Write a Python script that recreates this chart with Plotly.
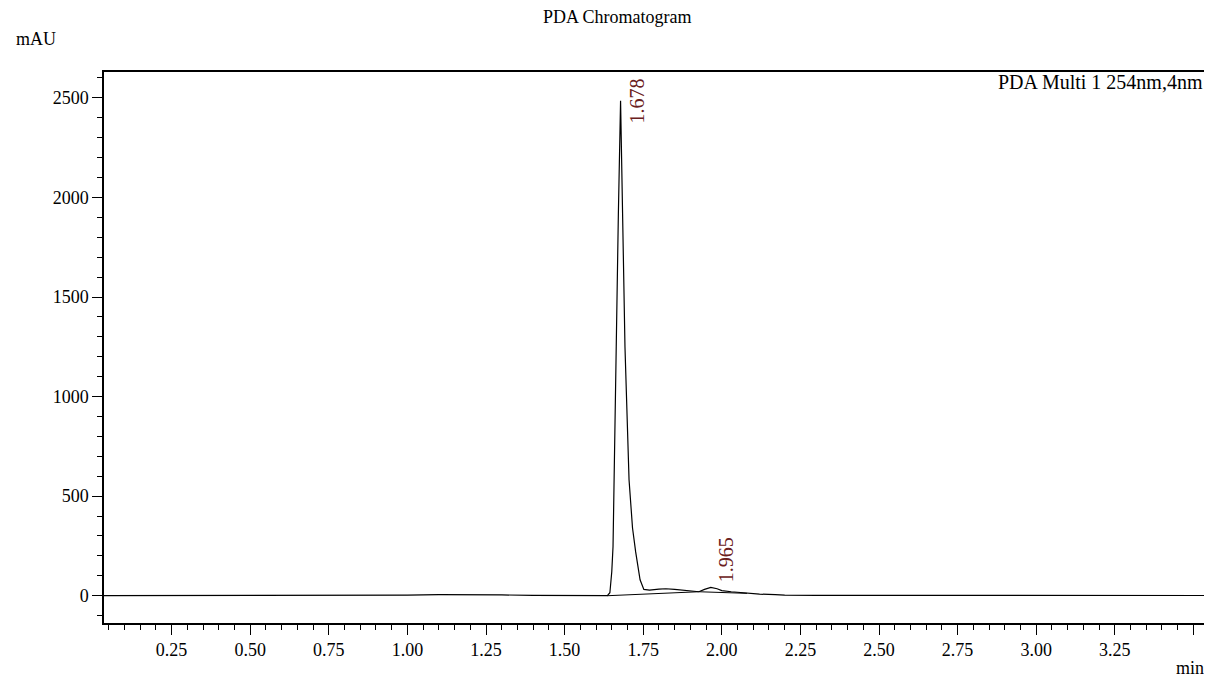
import plotly.graph_objects as go

# ---- data ----
time_min = [0.035, 0.30, 0.50, 0.55, 0.70, 0.90, 1.00, 1.10, 1.20, 1.30, 1.40, 1.50, 1.60, 1.636,
            1.644, 1.650, 1.654, 1.657, 1.664, 1.671, 1.678, 1.684, 1.692, 1.705, 1.716, 1.726,
            1.740, 1.752, 1.770, 1.800, 1.822, 1.850, 1.880, 1.910, 1.927, 1.945, 1.965, 1.985,
            2.000, 2.030, 2.075, 2.120, 2.170, 2.200, 2.300, 2.500, 2.650, 2.700, 3.000, 3.540]
signal_mau = [0, 0, 0, 1, 1, 2, 3, 5, 6, 4, 2, 1, 0, 0,
              15, 120, 247, 581, 1250, 1919, 2485, 1919, 1250, 581, 340, 220,
              80, 32, 28, 33, 35, 32, 28, 22, 20, 32, 42, 35,
              26, 20, 13, 8, 5, 3, 2, 1.5, 2, 1.5, 1, 1]

baseline1_t = [1.636, 1.927]
baseline1_v = [0, 20]
baseline2_t = [1.927, 2.080]
baseline2_v = [20, 12]

peak_times = [1.678, 1.965]
peak_heights = [2485, 42]
peak_labels = ["1.678", "1.965"]

x_tick_vals = [0.25, 0.50, 0.75, 1.00, 1.25, 1.50, 1.75, 2.00, 2.25, 2.50, 2.75, 3.00, 3.25, 3.50]
x_tick_text = ["0.25", "0.50", "0.75", "1.00", "1.25", "1.50", "1.75", "2.00", "2.25", "2.50",
               "2.75", "3.00", "3.25", ""]
y_tick_vals = [0, 500, 1000, 1500, 2000, 2500]

FONT = "Liberation Serif, Times New Roman, serif"
FS = 18

fig = go.Figure()
fig.add_trace(go.Scatter(x=time_min, y=signal_mau, mode="lines",
                         line=dict(color="black", width=1.2), hoverinfo="skip"))
fig.add_trace(go.Scatter(x=baseline1_t, y=baseline1_v, mode="lines",
                         line=dict(color="black", width=1), hoverinfo="skip"))
fig.add_trace(go.Scatter(x=baseline2_t, y=baseline2_v, mode="lines",
                         line=dict(color="black", width=1), hoverinfo="skip"))

annotations = []
shifts = [(16, 0), (16, 28)]
for t, h, lab, (dx, dy) in zip(peak_times, peak_heights, peak_labels, shifts):
    annotations.append(dict(x=t, y=h, xref="x", yref="y", text=lab, showarrow=False,
                            textangle=-90, xanchor="center", yanchor="middle",
                            xshift=dx, yshift=dy,
                            font=dict(family=FONT, size=20, color="#6a2020")))

annotations += [
    dict(x=0, y=1, xref="paper", yref="paper", text="PDA Chromatogram", showarrow=False,
         xanchor="center", yanchor="middle", xshift=513, yshift=55,
         font=dict(family=FONT, size=18, color="black")),
    dict(x=0, y=1, xref="paper", yref="paper", text="mAU", showarrow=False,
         xanchor="left", yanchor="middle", xshift=-90, yshift=33,
         font=dict(family=FONT, size=FS, color="black")),
    dict(x=1, y=0, xref="paper", yref="paper", text="min", showarrow=False,
         xanchor="right", yanchor="middle", xshift=0, yshift=-45,
         font=dict(family=FONT, size=FS, color="black")),
    dict(x=1, y=1, xref="paper", yref="paper", text="PDA Multi 1 254nm,4nm", showarrow=False,
         xanchor="right", yanchor="middle", xshift=-1, yshift=-10,
         font=dict(family=FONT, size=20, color="black")),
]

# the page body adds an 8px offset, so the figure is sized to end at the window edge
fig.update_layout(
    width=1204, height=671,
    margin=dict(l=96, r=4, t=64, b=56),
    paper_bgcolor="white", plot_bgcolor="white",
    showlegend=False,
    font=dict(family=FONT, size=FS, color="black"),
    annotations=annotations,
    xaxis=dict(range=[0.035, 3.54], showgrid=False, zeroline=False,
               tickmode="array", tickvals=x_tick_vals, ticktext=x_tick_text,
               ticks="outside", ticklen=10, tickwidth=1.2, tickcolor="black",
               showline=True, linecolor="black", linewidth=1.5, mirror=True,
               tickfont=dict(family=FONT, size=FS, color="black"),
               minor=dict(dtick=0.05, tick0=0, ticks="outside", ticklen=5,
                          tickwidth=1, tickcolor="black", showgrid=False)),
    yaxis=dict(range=[-137, 2630], showgrid=False, zeroline=False,
               tickmode="array", tickvals=y_tick_vals,
               ticks="outside", ticklen=10, tickwidth=1.2, tickcolor="black",
               showline=True, linecolor="black", linewidth=1.5, mirror=True,
               tickfont=dict(family=FONT, size=FS, color="black"),
               minor=dict(dtick=100, tick0=0, ticks="outside", ticklen=5,
                          tickwidth=1, tickcolor="black", showgrid=False)),
)

fig.write_html("out.html")
